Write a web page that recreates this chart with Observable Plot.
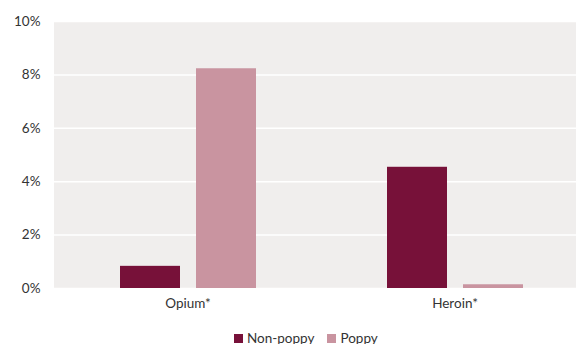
<!DOCTYPE html>
<html>
<head>
<meta charset="utf-8">
<script src="https://cdn.jsdelivr.net/npm/d3@7"></script>
<script src="https://cdn.jsdelivr.net/npm/@observablehq/plot@0.6"></script>
<style>
  html, body { margin: 0; padding: 0; background: white; }
  #wrap { width: 576px; overflow: hidden; height: 320px; }
  #wrap svg { max-width: none !important; display: block; }
  #legend { display: flex; align-items: center; height: 12px; line-height: 12px; margin-top: 12px; padding-left: 234px;
    font-family: Lato, "Open Sans", sans-serif; font-size: 13.5px; color: #333; }
  .sw { width: 9px; height: 9px; display: inline-block; margin-right: 4px; }
  .item { display: flex; align-items: center; margin-right: 13px; }
</style>
</head>
<body>
<div id="wrap"><div id="chart"></div></div>
<div id="legend"></div>
<script>
const categories = ["Opium*", "Heroin*"];
const series = ["Non-poppy", "Poppy"];
const nonPoppy = [0.83, 4.54];
const poppy = [8.23, 0.14];
const yTicks = [0, 2, 4, 6, 8, 10];
const colors = ["#771139", "#c994a0"];

const data = categories.flatMap((c, i) => [
  {category: c, series: series[0], value: nonPoppy[i]},
  {category: c, series: series[1], value: poppy[i]}
]);

const chart = Plot.plot({
  width: 588,
  height: 320,
  marginLeft: 53,
  marginRight: 0,
  marginTop: 21,
  marginBottom: 32,
  style: {fontFamily: "Lato, 'Open Sans', sans-serif", fontSize: "13.5px", color: "#333", background: "white", maxWidth: "none"},
  fx: {domain: categories, padding: 0, label: null, axis: "bottom", tickSize: 0, tickPadding: 10},
  x: {domain: series, paddingInner: 0.214, paddingOuter: 0.86, axis: null},
  y: {domain: [0, 10], ticks: yTicks, tickFormat: d => d + "%", tickSize: 0, tickPadding: 14, label: null},
  color: {domain: series, range: colors},
  marks: [
    Plot.frame({fill: "#f0eeed", stroke: null, shapeRendering: "crispEdges", inset: -0.5}),
    Plot.gridY(yTicks, {stroke: "white", strokeOpacity: 1, strokeWidth: 1.5}),
    Plot.barY(data, {fx: "category", x: "series", y: "value", fill: "series"})
  ]
});
document.getElementById("chart").appendChild(chart);

const legend = document.getElementById("legend");
series.forEach((s, i) => {
  const item = document.createElement("div");
  item.className = "item";
  const sw = document.createElement("span");
  sw.className = "sw";
  sw.style.background = colors[i];
  const t = document.createElement("span");
  t.textContent = s;
  item.appendChild(sw);
  item.appendChild(t);
  legend.appendChild(item);
});
</script>
</body>
</html>
